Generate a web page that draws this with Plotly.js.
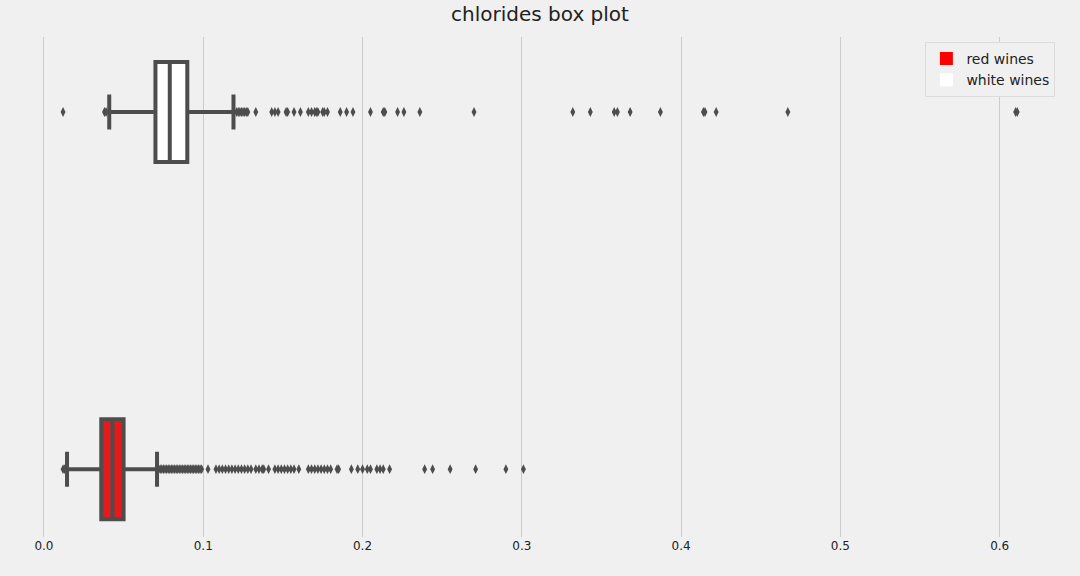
<!DOCTYPE html><html><head><script src="https://cdn.plot.ly/plotly-3.0.1.min.js"></script>
<style>body{margin:0;background:#f0f0f0}</style></head><body><div id="c" style="width:1080px;height:576px"></div><script>
const seriesNames=["red wines","white wines"];
const fills=["#e41a1c","#ffffff"];
const legendFills=["#ff0000","#ffffff"];
// top row (drawn white) and bottom row (drawn red)
const topStats={lf:0.041,q1:0.070,med:0.079,q3:0.090,uf:0.119};
const botStats={lf:0.0145,q1:0.036,med:0.043,q3:0.050,uf:0.071};
const topOut=[0.012,0.038,0.039,0.121,0.122,0.123,0.124,0.125,0.126,0.127,0.128,0.133,0.143,0.145,0.147,0.152,0.153,0.157,0.161,0.166,0.168,0.170,0.171,0.172,0.175,0.176,0.178,0.186,0.190,0.194,0.205,0.213,0.214,0.222,0.226,0.236,0.270,0.332,0.343,0.358,0.360,0.368,0.387,0.414,0.415,0.422,0.467,0.610,0.611];
const botOut=[0.012,0.013,0.072,0.073,0.074,0.075,0.076,0.077,0.078,0.079,0.080,0.081,0.082,0.083,0.084,0.085,0.086,0.087,0.088,0.089,0.090,0.091,0.092,0.093,0.094,0.095,0.096,0.097,0.098,0.099,0.103,0.108,0.110,0.112,0.114,0.116,0.118,0.120,0.122,0.124,0.126,0.128,0.130,0.133,0.135,0.137,0.138,0.141,0.145,0.147,0.149,0.151,0.153,0.155,0.157,0.160,0.166,0.168,0.170,0.172,0.174,0.176,0.178,0.180,0.184,0.185,0.193,0.197,0.200,0.203,0.205,0.209,0.211,0.213,0.217,0.239,0.244,0.255,0.271,0.290,0.301];
const lc="#4d4d4d";
function bx(s,y,fill){return {type:'box',orientation:'h',y:[y],q1:[s.q1],median:[s.med],q3:[s.q3],lowerfence:[s.lf],upperfence:[s.uf],width:0.28,whiskerwidth:0.35,fillcolor:fill,line:{color:lc,width:4},showlegend:false,boxpoints:false,hoverinfo:'x'};}
function pts(xs,y){return {type:'scatter',mode:'markers',x:xs,y:xs.map(()=>y),marker:{symbol:'diamond-tall',size:7,color:lc},showlegend:false,hoverinfo:'x'};}
function leg(i){return {type:'scatter',mode:'markers',x:[null],y:[null],name:seriesNames[i],marker:{symbol:'square',size:13,color:legendFills[i],line:{width:0}}};}
const data=[bx(botStats,1,fills[0]),bx(topStats,0,fills[1]),pts(topOut,0),pts(botOut,1),leg(0),leg(1)];
Plotly.newPlot('c',data,{
 paper_bgcolor:'#f0f0f0',plot_bgcolor:'#f0f0f0',
 margin:{l:10,r:0,t:37,b:39},
 title:{text:'chlorides box plot',font:{family:'DejaVu Sans',size:20,color:'#222'},x:0.5,y:0.975,yanchor:'middle'},
 font:{family:'DejaVu Sans',color:'#222'},
 xaxis:{range:[-0.0213,0.6504],tickvals:[0,0.1,0.2,0.3,0.4,0.5,0.6],ticktext:['0.0','0.1','0.2','0.3','0.4','0.5','0.6'],showgrid:true,gridcolor:'#cbcbcb',gridwidth:1,zeroline:false,showline:false,ticks:'',tickfont:{size:12}},
 yaxis:{range:[1.19,-0.21],showgrid:false,zeroline:false,showticklabels:false,ticks:''},
 legend:{x:0.977,y:0.99,xanchor:'right',yanchor:'top',bgcolor:'#f0f0f0',bordercolor:'#dcdcdc',borderwidth:1,font:{size:14},traceorder:'normal'},
 showlegend:true
},{displayModeBar:false});
</script></body></html>
